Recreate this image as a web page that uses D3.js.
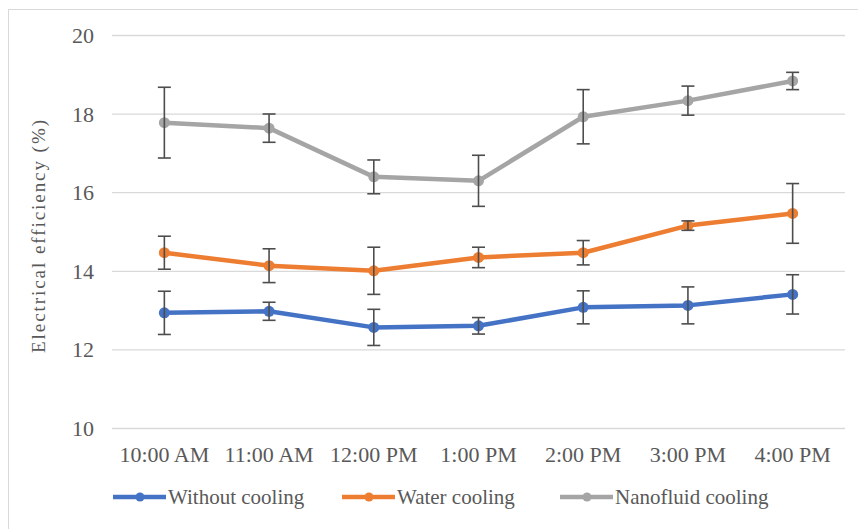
<!DOCTYPE html>
<html>
<head>
<meta charset="utf-8">
<script src="https://cdn.jsdelivr.net/npm/d3@7"></script>
<style>
  html, body { margin: 0; padding: 0; background: #fff; }
  svg { display: block; }
</style>
</head>
<body>
<svg id="chart" width="858" height="529"></svg>
<script>
// Hourly readings
const categories = ["10:00 AM", "11:00 AM", "12:00 PM", "1:00 PM", "2:00 PM", "3:00 PM", "4:00 PM"];

// Mean electrical efficiency (%) and error-bar half widths
const withoutCooling    = [12.93, 12.97, 12.56, 12.60, 13.07, 13.12, 13.40];
const withoutCoolingErr = [0.55, 0.23, 0.46, 0.21, 0.42, 0.47, 0.50];
const waterCooling      = [14.46, 14.13, 14.00, 14.34, 14.46, 15.15, 15.46];
const waterCoolingErr   = [0.42, 0.43, 0.60, 0.26, 0.31, 0.12, 0.76];
const nanoCooling       = [17.77, 17.63, 16.39, 16.29, 17.92, 18.33, 18.83];
const nanoCoolingErr    = [0.90, 0.36, 0.43, 0.65, 0.69, 0.37, 0.22];

const yTicks = [10, 12, 14, 16, 18, 20];
const seriesNames = ["Without cooling", "Water cooling", "Nanofluid cooling"];
const seriesColors = ["#4472C4", "#ED7D31", "#A5A5A5"];

const series = [
  { name: seriesNames[0], color: seriesColors[0], values: withoutCooling, errs: withoutCoolingErr },
  { name: seriesNames[1], color: seriesColors[1], values: waterCooling, errs: waterCoolingErr },
  { name: seriesNames[2], color: seriesColors[2], values: nanoCooling, errs: nanoCoolingErr }
];

const FONT = '"Liberation Serif", "Times New Roman", Tinos, "DejaVu Serif", serif';
const TEXT = "#595959";

const svg = d3.select("#chart");

// chart area frame
svg.append("rect")
  .attr("x", 8.5).attr("y", 9.5)
  .attr("width", 900).attr("height", 600)
  .attr("fill", "none").attr("stroke", "#D9D9D9").attr("stroke-width", 1);

const plot = { left: 112, right: 845, top: 35, bottom: 428 };

const x = d3.scaleBand().domain(categories).range([plot.left, plot.right]).padding(0);
const y = d3.scaleLinear().domain([10, 20]).range([plot.bottom, plot.top]);
const cx = c => x(c) + x.bandwidth() / 2;

// horizontal gridlines with tick labels
const yAxis = d3.axisLeft(y).tickValues(yTicks).tickSize(-(plot.right - plot.left)).tickPadding(18);
const gy = svg.append("g").attr("transform", `translate(${plot.left},0)`).call(yAxis);
gy.select(".domain").remove();
gy.selectAll(".tick line").attr("stroke", "#D9D9D9").attr("stroke-width", 1.3);
gy.selectAll(".tick text")
  .style("font-family", FONT).style("font-size", "22px").style("fill", TEXT)
  .attr("dy", "0.34em");

// category labels
const xAxis = d3.axisBottom(x).tickSize(0).tickPadding(0);
const gx = svg.append("g").attr("transform", `translate(0,${plot.bottom})`).call(xAxis);
gx.select(".domain").remove();
gx.selectAll(".tick text")
  .style("font-family", FONT).style("font-size", "22px").style("fill", TEXT)
  .attr("y", 34).attr("dy", 0);

// axis title
svg.append("text")
  .attr("transform", `translate(45,236.5) rotate(-90)`)
  .attr("text-anchor", "middle")
  .style("font-family", FONT).style("font-size", "19px").style("fill", TEXT)
  .attr("textLength", 233)
  .attr("lengthAdjust", "spacing")
  .text("Electrical  efficiency  (%)");

const line = d3.line().x((d, i) => cx(categories[i])).y(d => y(d));

series.forEach(s => {
  const g = svg.append("g");
  g.append("path")
    .attr("d", line(s.values))
    .attr("fill", "none")
    .attr("stroke", s.color)
    .attr("stroke-width", 4.5)
    .attr("stroke-linejoin", "round");
  g.selectAll("circle").data(s.values).join("circle")
    .attr("cx", (d, i) => cx(categories[i]))
    .attr("cy", d => y(d))
    .attr("r", 5.5)
    .attr("fill", s.color);
});

// error bars
series.forEach(s => {
  const g = svg.append("g").attr("stroke", "#4d4d4d").attr("stroke-width", 1.6).attr("fill", "none");
  s.values.forEach((v, i) => {
    const px = cx(categories[i]);
    const top = y(v + s.errs[i]);
    const bot = y(v - s.errs[i]);
    g.append("line").attr("x1", px).attr("x2", px).attr("y1", top).attr("y2", bot);
    g.append("line").attr("x1", px - 6.5).attr("x2", px + 6.5).attr("y1", top).attr("y2", top);
    g.append("line").attr("x1", px - 6.5).attr("x2", px + 6.5).attr("y1", bot).attr("y2", bot);
  });
});

// legend
const legendX = [113, 342, 560];
const legend = svg.append("g");
series.forEach((s, i) => {
  const g = legend.append("g").attr("transform", `translate(${legendX[i]},497)`);
  g.append("line").attr("x1", 0).attr("x2", 53).attr("y1", 0).attr("y2", 0)
    .attr("stroke", s.color).attr("stroke-width", 4.5);
  g.append("circle").attr("cx", 27).attr("cy", 0).attr("r", 4.5).attr("fill", s.color);
  g.append("text").attr("x", 55).attr("y", 7)
    .style("font-family", FONT).style("font-size", "21px").style("fill", TEXT)
    .text(s.name);
});
</script>
</body>
</html>
